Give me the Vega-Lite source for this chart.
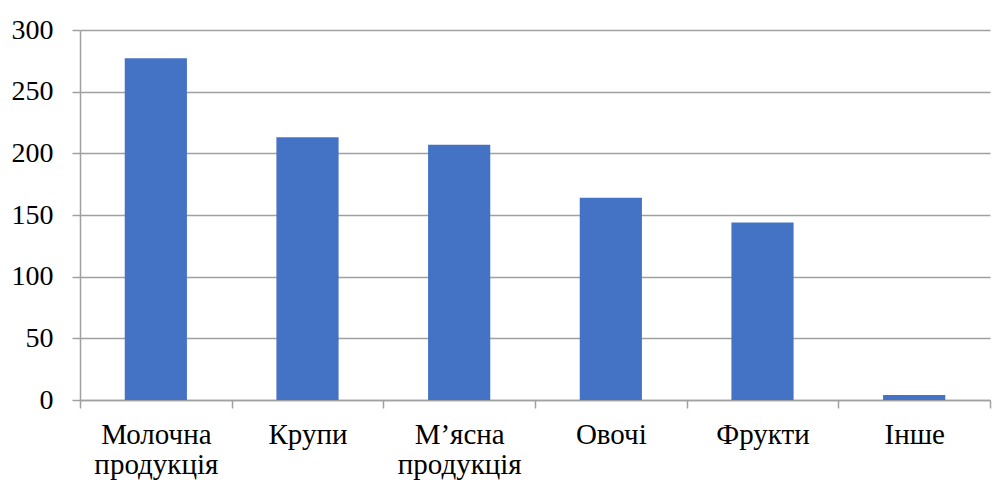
{
  "$schema": "https://vega.github.io/schema/vega-lite/v6.json",
  "width": 910,
  "height": 370,
  "autosize": {"type": "none"},
  "padding": {"left": 80, "top": 30, "right": 5, "bottom": 83},
  "background": "white",
  "data": {
    "values": [
      {"category": "Молочна продукція", "value": 277},
      {"category": "Крупи", "value": 213},
      {"category": "М’ясна продукція", "value": 207},
      {"category": "Овочі", "value": 164},
      {"category": "Фрукти", "value": 144},
      {"category": "Інше", "value": 4}
    ]
  },
  "mark": {"type": "bar", "color": "#4472C4", "width": {"band": 0.41}},
  "encoding": {
    "x": {
      "field": "category",
      "type": "nominal",
      "sort": null,
      "scale": {"paddingInner": 0, "paddingOuter": 0},
      "axis": {
        "title": null,
        "labelAngle": 0,
        "labelExpr": "split(datum.label, ' ')",
        "labelFont": "Liberation Serif",
        "labelFontSize": 29,
        "labelColor": "black",
        "labelPadding": 12,
        "labelLineHeight": 30,
        "tickBand": "extent",
        "tickSize": 8,
        "tickColor": "#a0a0a0",
        "tickWidth": 1.5,
        "domainColor": "#a0a0a0",
        "domainWidth": 1.5,
        "grid": false
      }
    },
    "y": {
      "field": "value",
      "type": "quantitative",
      "scale": {"domain": [0, 300], "nice": false},
      "axis": {
        "title": null,
        "values": [0, 50, 100, 150, 200, 250, 300],
        "labelFont": "Liberation Serif",
        "labelFontSize": 28,
        "labelColor": "black",
        "labelPadding": 19,
        "tickSize": 8,
        "tickColor": "#a0a0a0",
        "tickWidth": 1.5,
        "domainColor": "#a0a0a0",
        "domainWidth": 1.5,
        "grid": true,
        "gridColor": "#a0a0a0",
        "gridWidth": 1.5
      }
    }
  },
  "config": {"view": {"stroke": null}}
}
